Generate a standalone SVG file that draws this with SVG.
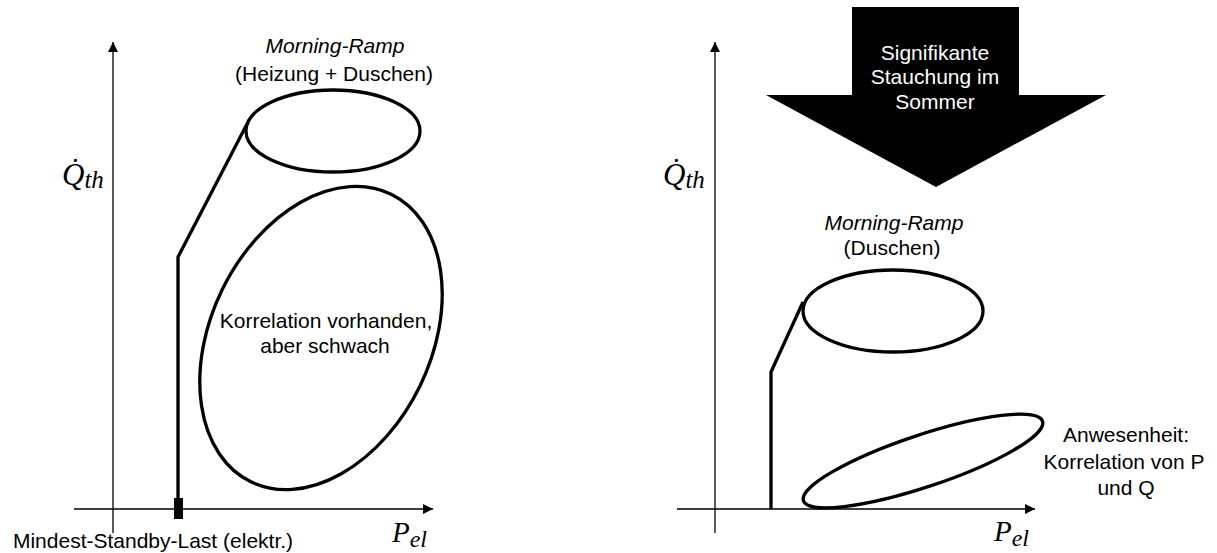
<svg xmlns="http://www.w3.org/2000/svg" width="1217" height="553" viewBox="0 0 1217 553">
<style>
.axis{stroke:#000;stroke-width:1.3;fill:none}
.thick{stroke:#000;stroke-width:3.3;fill:none;stroke-linejoin:round}
.shape{stroke:#000;stroke-width:3.3;fill:none}
.t{font-family:"Liberation Sans",Arial,sans-serif;font-size:21px;fill:#000;text-anchor:middle}
.it{font-style:italic}
.w{fill:#fff}
.m{font-family:"Liberation Serif","Times New Roman",serif;font-style:italic;fill:#000}
</style>
<defs>
<marker id="ah" markerUnits="userSpaceOnUse" markerWidth="11" markerHeight="11" refX="10" refY="5" orient="auto">
<path d="M0,0 L10,5 L0,10 Z" fill="#000"/>
</marker>
</defs>
<rect width="1217" height="553" fill="#fff"/>

<g id="axes-left">
<line class="axis" x1="113" y1="533" x2="113" y2="42" marker-end="url(#ah)"/>
<line class="axis" x1="74" y1="509" x2="433" y2="509" marker-end="url(#ah)"/>
<text class="m" x="62" y="185" font-size="31">Q̇<tspan font-size="25" dy="3">th</tspan></text>
<text class="m" x="392" y="542" font-size="29">P<tspan font-size="24" dy="5">el</tspan></text>
</g>

<g id="axes-right">
<line class="axis" x1="715" y1="533" x2="715" y2="42" marker-end="url(#ah)"/>
<line class="axis" x1="677" y1="509" x2="1035" y2="509" marker-end="url(#ah)"/>
<text class="m" x="663" y="185" font-size="31">Q̇<tspan font-size="25" dy="3">th</tspan></text>
<text class="m" x="994" y="541" font-size="29">P<tspan font-size="24" dy="5">el</tspan></text>
</g>

<g id="connectors">
<polyline class="thick" points="178,509 178,257 247,124"/>
<polyline class="thick" points="771,509 771,372 803,302"/>
</g>

<g id="standby-left">
<rect x="174" y="498" width="9" height="21" fill="#000"/>
<text class="t" x="153" y="548">Mindest-Standby-Last (elektr.)</text>
</g>

<g id="ramp-left">
<ellipse class="shape" cx="333" cy="131" rx="87" ry="41"/>
<text class="t it" x="335" y="53">Morning-Ramp</text>
<text class="t" x="334" y="81">(Heizung + Duschen)</text>
</g>

<g id="corr-left">
<ellipse class="shape" cx="321" cy="338" rx="160" ry="110" transform="rotate(-64 321 338)"/>
<text class="t" x="326" y="328">Korrelation vorhanden,</text>
<text class="t" x="325" y="353">aber schwach</text>
</g>

<g id="summer-arrow">
<polygon points="852,7 1019,7 1019,95 1106,95 936,187 766,95 852,95" fill="#000"/>
<text class="t w" x="935" y="60">Signifikante</text>
<text class="t w" x="935" y="84">Stauchung im</text>
<text class="t w" x="935" y="109">Sommer</text>
</g>

<g id="ramp-right">
<ellipse class="shape" cx="893" cy="311" rx="90" ry="41"/>
<text class="t it" x="894" y="230">Morning-Ramp</text>
<text class="t" x="892" y="255">(Duschen)</text>
</g>

<g id="corr-right">
<ellipse class="shape" cx="923" cy="461" rx="126" ry="26" transform="rotate(-18.4 923 461)"/>
<text class="t" x="1126" y="442">Anwesenheit:</text>
<text class="t" x="1124" y="469">Korrelation von P</text>
<text class="t" x="1126" y="495">und Q</text>
</g>
</svg>
